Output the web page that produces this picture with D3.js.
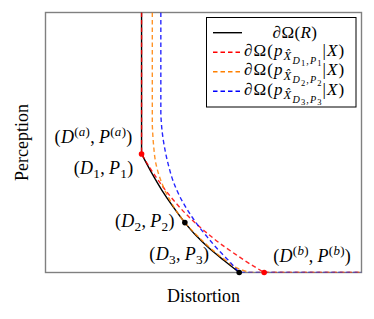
<!DOCTYPE html>
<html>
<head>
<meta charset="utf-8">
<script src="https://cdn.jsdelivr.net/npm/d3@7"></script>
<style>
  body { margin: 0; background: #fff; }
  svg { display: block; }
  text { font-family: "Liberation Serif", "Times New Roman", serif; fill: #000; }
</style>
</head>
<body>
<svg id="chart" width="374" height="319"></svg>
<script>
// 曲线数据 (D, P)，归一化到 [0,1]
const curveR      = [[0.304,0.456],[0.336,0.383],[0.368,0.317],[0.403,0.254],[0.441,0.192],[0.478,0.140],[0.520,0.091],[0.564,0.047],[0.613,0]];
const curveRed    = [[0.304,0.456],[0.337,0.390],[0.372,0.329],[0.410,0.271],[0.457,0.210],[0.505,0.158],[0.552,0.112],[0.600,0.071],[0.647,0.033],[0.692,0]];
const curveOrange = [[0.338,0.567],[0.342,0.490],[0.349,0.421],[0.368,0.344],[0.399,0.267],[0.441,0.192],[0.483,0.138],[0.527,0.088],[0.571,0.046],[0.612,0.014],[0.647,0]];
const curveBlue   = [[0.365,0.606],[0.369,0.544],[0.377,0.479],[0.389,0.413],[0.405,0.348],[0.426,0.290],[0.451,0.237],[0.479,0.187],[0.511,0.138],[0.543,0.092],[0.578,0.048],[0.613,0]];

// 标注点
const pointsRed   = [[0.304,0.456],[0.692,0]];
const pointsBlack = [[0.441,0.192],[0.613,0]];

const xLabel = "Distortion";
const yLabel = "Perception";

// 画布
const svg = d3.select("#chart");
const x = d3.scaleLinear().domain([0, 1]).range([45.5, 361.5]);
const y = d3.scaleLinear().domain([0, 1]).range([272.5, 12.5]);

svg.append("defs").append("clipPath").attr("id", "plotclip")
  .append("rect")
  .attr("x", x(0)).attr("y", y(1))
  .attr("width", x(1) - x(0)).attr("height", y(0) - y(1));

// 坐标框 (先画, 曲线压在上面)
svg.append("rect")
  .attr("x", x(0)).attr("y", y(1))
  .attr("width", x(1) - x(0)).attr("height", y(0) - y(1))
  .attr("fill", "none")
  .attr("stroke", "#808080")
  .attr("stroke-width", 1.4);

const series = [
  { pts: curveR,      color: "#000000", dash: null,  tail: false, width: 1.4 },
  { pts: curveRed,    color: "#ff0000", dash: "4.5,3", tail: true, width: 1.4 },
  { pts: curveOrange, color: "#ff8000", dash: "4.5,3", tail: true, width: 1.4 },
  { pts: curveBlue,   color: "#0000ff", dash: "4.5,3", tail: true, width: 1.4 }
];

const curveGen = d3.line()
  .x(d => x(d[0]))
  .y(d => y(d[1]))
  .curve(d3.curveMonotoneY);
const straight = d3.line().x(d => x(d[0])).y(d => y(d[1]));

// 竖直段 + 曲线段 + 水平段 拼成一条 path
function buildPath(s) {
  const first = s.pts[0], last = s.pts[s.pts.length - 1];
  let d = straight([[first[0], 1], first]);
  d += curveGen(s.pts).replace(/^M/, "L");
  if (s.tail) d += straight([last, [1, 0]]).replace(/^M/, "L");
  return d;
}

const plot = svg.append("g").attr("clip-path", "url(#plotclip)");
series.forEach(s => {
  plot.append("path")
    .attr("d", buildPath(s))
    .attr("fill", "none")
    .attr("stroke", s.color)
    .attr("stroke-width", s.width)
    .attr("stroke-opacity", s.tail ? 0.85 : 1)
    .attr("stroke-dasharray", s.dash);
});

// 点
svg.selectAll(".ptRed").data(pointsRed).join("circle")
  .attr("cx", d => x(d[0])).attr("cy", d => y(d[1])).attr("r", 2.8).attr("fill", "#ff0000");
svg.selectAll(".ptBlack").data(pointsBlack).join("circle")
  .attr("cx", d => x(d[0])).attr("cy", d => y(d[1])).attr("r", 2.8).attr("fill", "#000");

// 数学文字: 每段 {t, it, lvl}
const shift = { "-1": -7, 0: 0, 1: 4.5, 2: 8, 3: 10.5 };
const scale = { "-1": 0.72, 0: 1, 1: 0.74, 2: 0.6, 3: 0.5 };
function mathText(g, parts, px, py, anchor, size, spacing) {
  const t = g.append("text")
    .attr("x", px).attr("y", py)
    .attr("text-anchor", anchor || "start")
    .style("font-size", size + "px")
    .style("letter-spacing", (spacing || 0) + "px");
  let prev = 0;
  parts.forEach(p => {
    const lvl = p.lvl || 0;
    t.append("tspan")
      .attr("dy", shift[lvl] - shift[prev])
      .style("font-size", (size * scale[lvl]) + "px")
      .style("font-style", p.it ? "italic" : "normal")
      .text(p.t);
    prev = lvl;
  });
  return t;
}

const FS = 18;
const sup = s => [{ t: "(", lvl: -1 }, { t: s, it: 1, lvl: -1 }, { t: ")", lvl: -1 }];
const pair = (a, b) => [{ t: "(" }, ...a, { t: ",\u2009" }, ...b, { t: ")" }];

const labA  = pair([{ t: "D", it: 1 }, ...sup("a")], [{ t: "P", it: 1 }, ...sup("a")]);
const labB  = pair([{ t: "D", it: 1 }, ...sup("b")], [{ t: "P", it: 1 }, ...sup("b")]);
const labN  = n => pair([{ t: "D", it: 1 }, { t: n, lvl: 1 }], [{ t: "P", it: 1 }, { t: n, lvl: 1 }]);

mathText(svg, labA, x(pointsRed[0][0]) - 9, y(pointsRed[0][1]) - 11, "end", FS, 0.3);
mathText(svg, labN("1"), x(pointsRed[0][0]) - 8, y(pointsRed[0][1]) + 20, "end", FS, 0.3);
mathText(svg, labN("2"), x(pointsBlack[0][0]) - 10, y(pointsBlack[0][1]) + 4, "end", FS, 0.3);
mathText(svg, labN("3"), x(pointsBlack[1][0]) - 30, y(pointsBlack[1][1]) - 13, "end", FS, 0.3);
mathText(svg, labB, x(pointsRed[1][0]) + 9, y(pointsRed[1][1]) - 10.5, "start", FS, 0.3);

// 轴标题
svg.append("text")
  .attr("x", (x(0) + x(1)) / 2).attr("y", 302)
  .attr("text-anchor", "middle").style("font-size", FS + "px")
  .text(xLabel);
svg.append("text")
  .attr("transform", `translate(28,${(y(0) + y(1)) / 2}) rotate(-90)`)
  .attr("text-anchor", "middle").style("font-size", FS + "px")
  .text(yLabel);

// 图例
const legendEntries = [
  { s: series[0], parts: [{ t: "\u2202\u03A9(" }, { t: "R", it: 1 }, { t: ")" }], center: true },
  ...["1", "2", "3"].map((n, i) => ({
    s: series[i + 1],
    parts: [
      { t: "\u2202\u03A9(" }, { t: "p", it: 1 },
      { t: "X\u0302", it: 1, lvl: 1 },
      { t: "D", it: 1, lvl: 2 }, { t: n, lvl: 3 }, { t: ",", lvl: 2 },
      { t: "P", it: 1, lvl: 2 }, { t: n, lvl: 3 },
      { t: "|" }, { t: "X", it: 1 }, { t: ")" }
    ]
  }))
];

const LFS = 17;
const legend = svg.append("g");
legend.append("rect")
  .attr("x", 206.5).attr("y", 17.5)
  .attr("width", 149.5).attr("height", 89.5)
  .attr("fill", "#fff").attr("stroke", "#000").attr("stroke-width", 1);

legendEntries.forEach((e, i) => {
  const cy = 32.7 + i * 19.5;
  legend.append("line")
    .attr("x1", 213).attr("x2", 242)
    .attr("y1", cy).attr("y2", cy)
    .attr("stroke", e.s.color)
    .attr("stroke-width", e.s.width)
    .attr("stroke-dasharray", e.s.dash);
  if (e.center) mathText(legend, e.parts, 295, cy + 5, "middle", LFS, 0.4);
  else mathText(legend, e.parts, 244, cy + 3.5, "start", LFS, 1.1);
});
</script>
</body>
</html>
